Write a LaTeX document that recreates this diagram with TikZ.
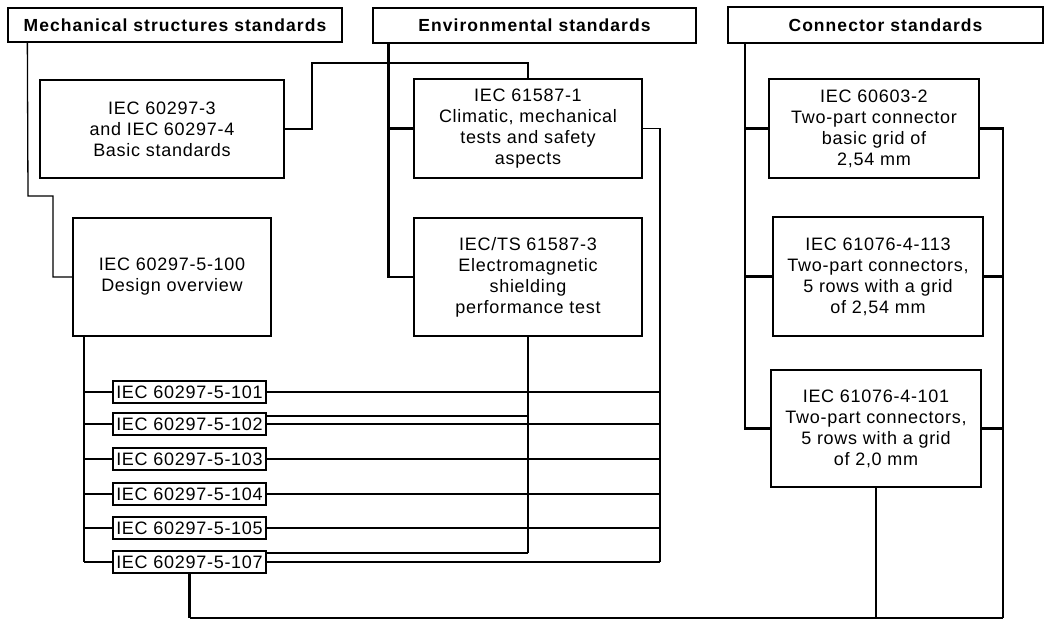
\documentclass[tikz,border=0pt]{standalone}
\usepackage{fontspec}
\usepackage{tikz}
\setmainfont{Liberation Sans}
\newfontfamily\boxfont[LetterSpace=4]{Liberation Sans}
\newfontfamily\headfont[LetterSpace=6]{Liberation Sans}

\begin{document}
\begin{tikzpicture}[x=1pt,y=-1pt,
  stdbox/.style={draw,line width=1.3pt,inner sep=0pt,align=center,
    font={\boxfont\fontsize{18}{21}\selectfont}},
  headbox/.style={stdbox,font={\headfont\bfseries\fontsize{17.5}{20}\selectfont}},
  partbox/.style={stdbox,minimum width=153pt,minimum height=22pt},
  link/.style={line width=1.3pt},
  heavy/.style={line width=2.8pt}]
\useasboundingbox (0,0) rectangle (1048,620);

% headers
\node[headbox,minimum width=334pt,minimum height=34pt] (mech) at (175,25) {Mechanical structures standards};
\node[headbox,minimum width=323pt,minimum height=35pt] (env) at (534.5,25.5) {Environmental standards};
\node[headbox,minimum width=315pt,minimum height=36pt] (conn) at (885.5,25) {Connector standards};

% standards
\node[stdbox,minimum width=244pt,minimum height=98pt] (basic) at (162,129) {IEC 60297-3\\and IEC 60297-4\\Basic standards};
\node[stdbox,minimum width=198pt,minimum height=118pt] (design) at (172,277) {IEC 60297-5-100\\Design overview};
\node[stdbox,minimum width=228pt,minimum height=99pt] (clim) at (528,128.5) {IEC 61587-1\\Climatic, mechanical\\tests and safety\\aspects};
\node[stdbox,minimum width=228pt,minimum height=118pt] (emc) at (528,277) {IEC/TS 61587-3\\Electromagnetic\\shielding\\performance test};
\node[stdbox,minimum width=210pt,minimum height=99pt] (plug) at (874,128.5) {IEC 60603-2\\Two-part connector\\basic grid of\\2,54 mm};
\node[stdbox,minimum width=210pt,minimum height=119pt] (grid113) at (878,276.5) {IEC 61076-4-113\\Two-part connectors,\\5 rows with a grid\\of 2,54 mm};
\node[stdbox,minimum width=210pt,minimum height=117pt] (grid101) at (876,428.5) {IEC 61076-4-101\\Two-part connectors,\\5 rows with a grid\\of 2,0 mm};

\foreach \n/\y in {101/392,102/424,103/459,104/494,105/528,107/562}
  \node[partbox] (p\n) at (189.5,\y) {IEC 60297-5-\n};

\coordinate (dbus) at (84,0);
\coordinate (climbus) at (660,562);
\coordinate (emcbus) at (528,553);
\coordinate (cbus) at (745,0);
\coordinate (floor) at (1003,618);

% mechanical
\draw[link] ([xshift=20pt]mech.south west) -- (28,196) -- (53,196) |- (design.west);
\draw[heavy] (basic.east) -- (312,129) |- (528,63) -- (clim.north);
\draw[heavy] (design.south -| dbus) -- (p107.west -| dbus);
\foreach \n/\w in {101/heavy,102/heavy,103/heavy,104/link,105/link,107/link}
  \draw[\w] (p\n.west -| dbus) -- (p\n.west);

% environmental
\draw[heavy] ([xshift=16pt]env.south west) |- (clim.west);
\draw[heavy] ([xshift=16pt]env.south west) |- (emc.west);
\draw[link] (clim.east) -| (climbus);
\draw[link] (emc.south) -- (emcbus);
\foreach \n in {101,102,103,104,105,107}
  \draw[link] (p\n.east) -- (p\n.east -| climbus);
\draw[heavy] ([yshift=8pt]p102.east) -- ([yshift=8pt]p102.east -| emcbus);
\draw[heavy] ([yshift=9pt]p107.east) -- (emcbus);

% connectors
\draw[heavy] (conn.south -| cbus) |- (grid101.west);
\draw[heavy] (plug.west -| cbus) -- (plug.west);
\draw[heavy] (grid113.west -| cbus) -- (grid113.west);
\draw[heavy] (plug.east) -| (floor);
\draw[heavy] (grid113.east) -- (grid113.east -| floor);
\draw[heavy] (grid101.east) -- (grid101.east -| floor);

% bottom
\draw[heavy] (p107.south) -- (p107.south |- floor);
\draw[link] (p107.south |- floor) -- (floor);
\draw[heavy] (grid101.south) -- (grid101.south |- floor);
\end{tikzpicture}
\end{document}
